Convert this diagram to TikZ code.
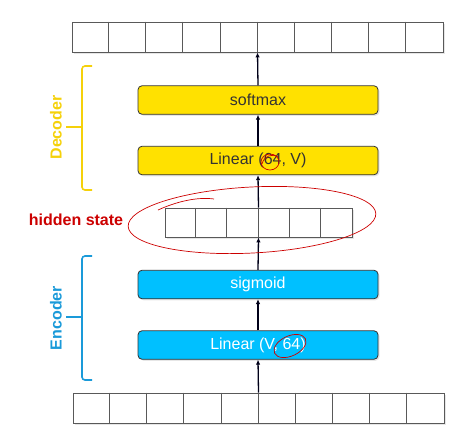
\documentclass[tikz,border=0pt]{standalone}
\usepackage{fontspec}
\setmainfont{Liberation Sans}
\usepackage{xcolor}
\usetikzlibrary{arrows.meta,shadows}
\definecolor{decyellow}{HTML}{FFE100}
\definecolor{declabel}{HTML}{F5D10A}
\definecolor{encblue}{HTML}{00C0FF}
\definecolor{enclabel}{HTML}{1A9AD9}
\definecolor{notered}{HTML}{CC0000}
\tikzset{
  vecbox/.style={draw=black!65,fill=white,line width=0.9pt,inner sep=0pt,
    minimum height=30pt,drop shadow={shadow xshift=1.5pt,shadow yshift=-1.5pt,opacity=0.2}},
  cellline/.style={draw=black!65,line width=0.9pt},
  layerbox/.style={draw=black!80,rounded corners=4pt,line width=0.8pt,inner sep=0pt,
    minimum width=240pt,minimum height=28.5pt,font=\fontsize{16}{19}\selectfont,
    drop shadow={shadow xshift=1.5pt,shadow yshift=-1.5pt,opacity=0.2}},
  decbox/.style={layerbox,fill=decyellow,text=black!80},
  encbox/.style={layerbox,fill=encblue,text=white},
  flowarrow/.style={-{Latex[length=5pt,width=4.5pt]},line width=1.3pt,draw=black!90!blue},
  groupbrace/.style={line width=1.6pt,rounded corners=3pt},
  grouplabel/.style={font=\bfseries\fontsize{16}{19}\selectfont,rotate=90},
  scribble/.style={draw=notered,line width=0.7pt}
}

\begin{document}
\begin{tikzpicture}[x=1pt,y=-1pt]
  \useasboundingbox (0,0) rectangle (454,440);

  % vectors
  \node[vecbox,minimum width=371pt] (outvec) at (257.5,37) {};
  \foreach \i in {1,...,9}
    \draw[cellline] ([xshift=\i*37.1pt]outvec.north west) -- ([xshift=\i*37.1pt]outvec.south west);
  \node[vecbox,minimum width=187pt,minimum height=29pt] (hidvec) at (258.5,222.5) {};
  \foreach \i in {1,...,5}
    \draw[cellline] ([xshift=\i*31.17pt]hidvec.north west) -- ([xshift=\i*31.17pt]hidvec.south west);
  \node[vecbox,minimum width=371pt] (invec) at (258.5,408) {};
  \foreach \i in {1,...,9}
    \draw[cellline] ([xshift=\i*37.1pt]invec.north west) -- ([xshift=\i*37.1pt]invec.south west);

  % layers
  \node[decbox] (softmax) at (258,100) {softmax};
  \node[decbox] (lindec) at (258,160.5) {Linear (64, V)};
  \node[encbox] (sigmoid) at (258,284.5) {sigmoid};
  \node[encbox] (linenc) at (258,345) {Linear (V, 64)};

  \draw[flowarrow] (invec.north) -- (linenc.south);
  \draw[flowarrow] (linenc.north) -- (sigmoid.south);
  \draw[flowarrow] (sigmoid.north) -- (hidvec.south);
  \draw[flowarrow] (hidvec.north) -- (lindec.south);
  \draw[flowarrow] (lindec.north) -- (softmax.south);
  \draw[flowarrow] (softmax.north) -- (outvec.south);

  % braces
  \draw[groupbrace,declabel] (92,66) -- (82,66) -- (82,190) -- (92,190);
  \draw[groupbrace,declabel] (82,127) -- (66,127);
  \node[grouplabel,text=declabel] (declab) at (56,127.5) {Decoder};
  \draw[groupbrace,enclabel] (92,256) -- (82,256) -- (82,380) -- (92,380);
  \draw[groupbrace,enclabel] (82,317) -- (66,317);
  \node[grouplabel,text=enclabel] (enclab) at (56,318) {Encoder};

  \node[font=\bfseries\fontsize{16}{19}\selectfont,text=notered] (hidlab) at (76,220) {hidden state};

  % hand notes
  \draw[scribble,rotate around={3:(252,220)}] (252,220) ellipse[x radius=124pt,y radius=33pt];
  \draw[scribble] (158,210) .. controls (180,200) and (200,197) .. (214,199);
  \draw[scribble] (270,162) ellipse[x radius=9pt,y radius=8pt];
  \draw[scribble] (262,164) .. controls (264,156) and (272,153) .. (278,157);
  \draw[scribble,rotate around={25:(290,346)}] (290,346) ellipse[x radius=17pt,y radius=10pt];
\end{tikzpicture}
\end{document}
